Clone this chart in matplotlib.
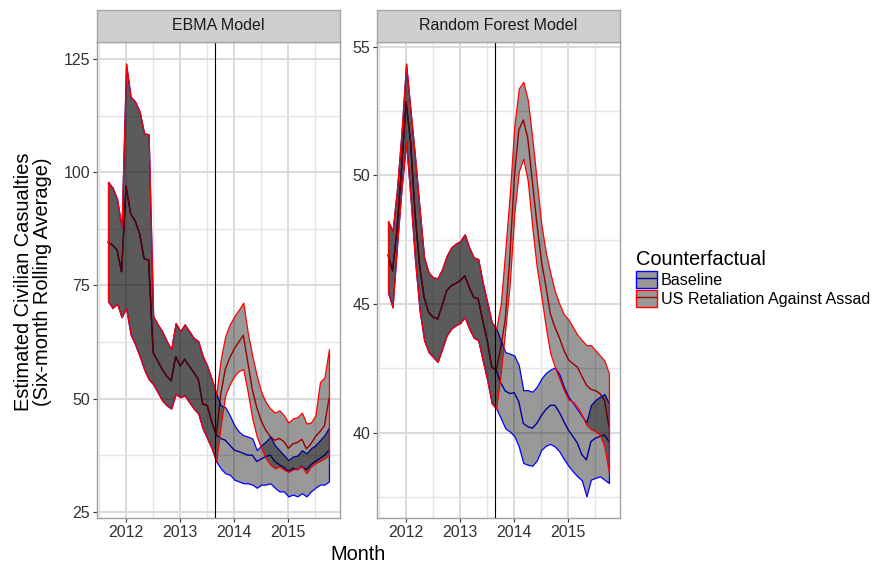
import numpy as np
import pandas as pd
import matplotlib
matplotlib.use('Agg')
import matplotlib.pyplot as plt
from matplotlib.patches import Patch
from matplotlib.lines import Line2D
from matplotlib.legend_handler import HandlerTuple

plt.rcParams['font.family'] = ['Liberation Sans', 'DejaVu Sans']

# ---------------- data ----------------
months = pd.date_range('2011-09-01', '2015-10-01', freq='MS')   # 50 monthly points
intervention = pd.Timestamp('2013-08-21')
panels = ['EBMA Model', 'Random Forest Model']
counterfactuals = ['Baseline', 'US Retaliation Against Assad']

# EBMA: shared pre-intervention values (Sep 2011 - Sep 2013)
ebma_pre_high = [97.9, 96.6, 94.1, 87.9, 124.0, 116.7, 115.6, 113.4, 108.6, 108.4, 68.2, 66.4, 64.9,
                 62.7, 60.9, 66.7, 64.9, 66.4, 64.9, 63.4, 62.7, 59.4, 57.2, 54.3, 51.0]
ebma_pre_mid = [84.6, 83.9, 82.8, 78.0, 97.0, 90.8, 89.3, 86.4, 80.9, 80.6, 60.2, 58.3, 56.5,
                55.0, 53.9, 59.3, 57.2, 58.7, 57.2, 55.8, 54.3, 48.8, 48.5, 44.8, 41.9]
ebma_pre_low = [71.5, 70.0, 71.0, 68.0, 70.0, 64.2, 62.0, 59.4, 56.5, 54.3, 53.2, 51.4, 49.6,
                48.5, 47.8, 51.0, 50.3, 50.7, 49.2, 47.8, 46.7, 43.4, 41.2, 39.0, 36.1]
# EBMA: post-intervention (Oct 2013 - Oct 2015)
ebma_base_high = [48.5, 48.1, 46.3, 44.1, 42.7, 41.9, 41.6, 41.2, 38.6, 39.7, 40.5, 41.6, 39.7,
                  38.6, 37.5, 36.4, 37.2, 37.4, 38.6, 37.9, 39.0, 39.7, 40.8, 41.9, 43.6]
ebma_base_mid = [41.2, 40.8, 39.7, 38.6, 38.3, 37.9, 37.5, 37.5, 36.1, 36.7, 37.2, 37.5, 36.1,
                 35.4, 34.8, 33.9, 34.6, 34.3, 35.0, 34.3, 35.4, 36.1, 36.8, 37.5, 38.6]
ebma_base_low = [34.6, 33.5, 33.2, 32.1, 31.7, 31.3, 31.3, 31.0, 30.3, 31.0, 31.0, 31.3, 30.3,
                 29.5, 29.5, 28.4, 28.8, 28.4, 29.1, 28.4, 29.5, 30.3, 31.0, 31.0, 31.7]
ebma_ret_high = [58.7, 63.8, 66.4, 68.2, 69.6, 71.2, 64.5, 59.4, 55.0, 51.4, 49.2, 47.8, 46.9,
                 47.4, 46.3, 44.7, 45.6, 45.9, 46.9, 44.5, 44.7, 46.3, 53.6, 54.7, 60.9]
ebma_ret_mid = [51.0, 56.5, 59.0, 61.0, 62.5, 64.0, 58.0, 52.0, 48.0, 45.0, 43.0, 41.6, 40.8,
                41.2, 40.5, 39.0, 40.0, 40.3, 41.0, 38.9, 40.0, 41.6, 42.7, 44.0, 50.0]
ebma_ret_low = [44.1, 50.7, 53.2, 55.0, 56.1, 56.5, 51.4, 45.6, 41.6, 39.0, 36.8, 35.4, 34.6,
                35.0, 34.3, 33.8, 34.3, 34.6, 35.0, 33.5, 35.0, 35.7, 36.2, 36.8, 37.5]

# Random forest: shared pre-intervention values
rf_pre_high = [48.23, 47.84, 49.5, 51.7, 54.35, 52.5, 50.7, 48.7, 46.8, 46.23, 46.03, 46.01, 46.36,
               46.87, 47.2, 47.35, 47.45, 47.71, 47.2, 46.81, 46.75, 45.84, 45.07, 44.29, 44.04]
rf_pre_mid = [46.9, 46.29, 47.9, 50.3, 52.87, 51.3, 48.5, 46.5, 45.26, 44.68, 44.49, 44.42, 44.94,
              45.52, 45.71, 45.80, 45.91, 46.1, 45.65, 45.26, 45.2, 44.36, 43.59, 42.55, 42.43]
rf_pre_low = [45.45, 44.87, 47.3, 49.5, 51.3, 49.1, 46.68, 44.75, 43.59, 43.13, 42.94, 42.75, 43.26,
              43.78, 44.04, 44.17, 44.26, 44.49, 44.04, 43.69, 43.59, 42.81, 42.04, 41.14, 40.94]
# Random forest: post-intervention
rf_base_high = [43.59, 43.13, 43.07, 43.0, 42.62, 41.65, 41.65, 41.59, 41.78, 42.1, 42.32, 42.45, 42.53,
                42.27, 41.78, 41.39, 41.16, 40.9, 40.65, 40.4, 41.07, 41.27, 41.39, 41.5, 41.13]
rf_base_mid = [41.93, 41.62, 41.52, 41.55, 41.2, 40.36, 40.23, 40.17, 40.36, 40.66, 40.9, 41.06, 41.06,
               40.79, 40.43, 40.1, 39.85, 39.59, 39.14, 38.94, 39.65, 39.78, 39.85, 39.91, 39.65]
rf_base_low = [40.56, 40.17, 40.04, 39.87, 39.46, 38.82, 38.75, 38.71, 38.92, 39.33, 39.49, 39.56, 39.46,
               39.27, 38.97, 38.71, 38.49, 38.3, 38.14, 37.52, 38.17, 38.24, 38.3, 38.17, 38.04]
rf_ret_high = [45.0, 47.07, 49.26, 51.9, 53.38, 53.64, 52.94, 51.45, 49.78, 48.1, 47.0, 46.2, 45.5,
               45.0, 44.6, 44.4, 44.1, 43.8, 43.6, 43.4, 43.4, 43.2, 43.0, 42.8, 42.3]
rf_ret_mid = [43.3, 44.4, 46.8, 49.9, 51.77, 52.16, 51.45, 49.78, 48.16, 46.7, 45.7, 44.62, 44.1,
              43.69, 43.2, 42.84, 42.68, 42.55, 42.19, 41.85, 41.68, 41.63, 41.52, 41.27, 40.23]
rf_ret_low = [42.3, 44.0, 45.8, 48.5, 50.16, 50.65, 49.78, 47.97, 46.42, 45.3, 44.1, 43.07, 42.55,
              42.1, 41.65, 41.29, 41.2, 41.0, 40.68, 40.3, 40.13, 40.04, 39.91, 39.46, 38.43]

ebma_yticks = [25, 50, 75, 100, 125]
rf_yticks = [40, 45, 50, 55]
xticks = [2012, 2013, 2014, 2015]

# ---------------- build series ----------------
def dec_year(ts):
    return ts.year + (ts.month - 1) / 12 + (ts.day - 1) / 365

x = np.array([dec_year(t) for t in months])
x_int = dec_year(intervention)

panel_data = {
    'EBMA Model': {
        'Baseline': (ebma_pre_low + ebma_base_low, ebma_pre_mid + ebma_base_mid, ebma_pre_high + ebma_base_high),
        'US Retaliation Against Assad': (ebma_pre_low + ebma_ret_low, ebma_pre_mid + ebma_ret_mid, ebma_pre_high + ebma_ret_high),
        'yticks': ebma_yticks,
    },
    'Random Forest Model': {
        'Baseline': (rf_pre_low + rf_base_low, rf_pre_mid + rf_base_mid, rf_pre_high + rf_base_high),
        'US Retaliation Against Assad': (rf_pre_low + rf_ret_low, rf_pre_mid + rf_ret_mid, rf_pre_high + rf_ret_high),
        'yticks': rf_yticks,
    },
}
line_colors = {'Baseline': '#0000ff', 'US Retaliation Against Assad': '#ff0000'}
fill_rgba = (0, 0, 0, 0.4)

# ---------------- figure ----------------
W, H = 875, 566
fig = plt.figure(figsize=(W / 100, H / 100), dpi=100)

def fx(px):
    return px / W

def fy(py):
    return 1 - py / H

panel_top, panel_bot = 42, 518
panel_lefts = [97, 377]
panel_w = 243
strip_h = 32

text_col = '#333333'
for i, name in enumerate(panels):
    L = panel_lefts[i]
    ax = fig.add_axes([fx(L), fy(panel_bot), panel_w / W, (panel_bot - panel_top) / H])
    d = panel_data[name]
    # mean lines (underneath ribbons)
    for cf in counterfactuals:
        lo, mid, hi = d[cf]
        ax.plot(x, mid, color=line_colors[cf], lw=1.0, zorder=2)
    # ribbons
    for cf in counterfactuals:
        lo, mid, hi = d[cf]
        ax.fill_between(x, lo, hi, facecolor=fill_rgba, edgecolor=line_colors[cf], lw=0.9, zorder=3)
    ax.axvline(x_int, color='black', lw=0.8, zorder=4)

    yt = d['yticks']
    ax.set_yticks(yt)
    ax.set_yticklabels([str(v) for v in yt])
    step = yt[1] - yt[0]
    ax.set_yticks([v + step / 2 for v in [yt[0] - step] + yt], minor=True)
    ax.set_xticks(xticks)
    ax.set_xticklabels([str(v) for v in xticks])
    ax.set_xticks([v + 0.5 for v in [xticks[0] - 1] + xticks], minor=True)

    # limits with 5% expansion (set after ticks so ticks don't widen them)
    xr = x.max() - x.min()
    ax.set_xlim(x.min() - 0.05 * xr, x.max() + 0.05 * xr)
    allv = np.concatenate([np.array(d[cf][k]) for cf in counterfactuals for k in range(3)])
    yr = allv.max() - allv.min()
    ax.set_ylim(allv.min() - 0.05 * yr, allv.max() + 0.05 * yr)

    ax.set_axisbelow(True)
    ax.grid(which='major', color='#dadada', lw=1.4, zorder=0)
    ax.grid(which='minor', color='#e4e4e4', lw=1.0, zorder=0)
    ax.tick_params(which='major', direction='out', length=3, width=0.8, color=text_col,
                   labelsize=11.5, labelcolor=text_col, pad=2)
    ax.tick_params(which='minor', length=0)
    for sp in ax.spines.values():
        sp.set_color('#a0a0a0')
        sp.set_linewidth(1.0)

    # facet strip
    sax = fig.add_axes([fx(L), fy(panel_top), panel_w / W, strip_h / H])
    sax.set_facecolor('#cfcfcf')
    sax.set_xticks([])
    sax.set_yticks([])
    for sp in sax.spines.values():
        sp.set_color('#a6a6a6')
        sp.set_linewidth(1.0)
    sax.text(0.5, 0.5, name, ha='center', va='center', fontsize=11.5, color='#1a1a1a',
             transform=sax.transAxes)

# axis titles
fig.text(fx(358.5), fy(555), 'Month', ha='center', va='center', fontsize=14.4, color='black')
fig.text(fx(33), fy(282), 'Estimated Civilian Casualties\n(Six-month Rolling Average)',
         ha='center', va='center', rotation=90, fontsize=14.4, color='black',
         multialignment='center', linespacing=0.95)

# legend
handles = []
for cf in counterfactuals:
    ln = Line2D([], [], color=line_colors[cf], lw=1.0)
    pt = Patch(facecolor=fill_rgba, edgecolor=line_colors[cf], lw=1.0)
    handles.append((ln, pt))
leg = fig.legend(handles, counterfactuals, loc='upper left', bbox_to_anchor=(fx(636), fy(250)),
                 frameon=False, title='Counterfactual', title_fontsize=14.4, fontsize=11.6,
                 handler_map={tuple: HandlerTuple(ndivide=1, pad=0)},
                 handlelength=1.3, handleheight=1.24, labelspacing=0.12, handletextpad=0.25,
                 borderpad=0, borderaxespad=0, alignment='left')

fig.savefig('out.png', dpi=100)
